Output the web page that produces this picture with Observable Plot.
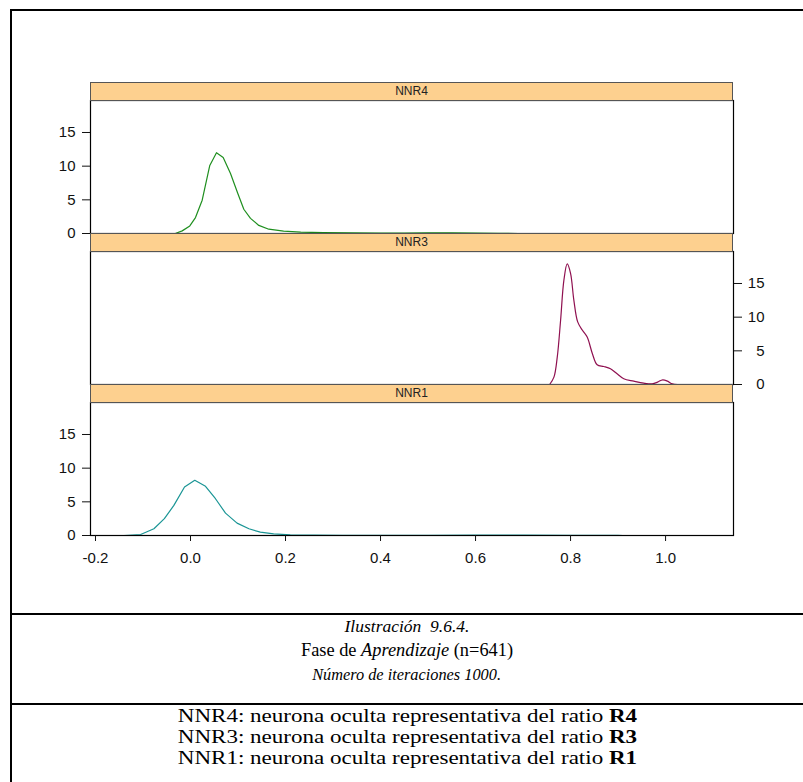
<!DOCTYPE html>
<html><head><meta charset="utf-8">
<script src="https://cdn.jsdelivr.net/npm/d3@7"></script>
<script src="https://cdn.jsdelivr.net/npm/@observablehq/plot@0.6"></script>
<style>
body{margin:0;background:#fff;}
#wrap{position:relative;width:803px;height:782px;overflow:hidden;background:#fff;font-family:"Liberation Sans",Arial,sans-serif;}
.hl{position:absolute;background:#000;}
.strip{position:absolute;left:90px;width:643px;height:19px;background:#fdd08f;border:1px solid #555;box-sizing:border-box;font-size:12px;text-align:center;line-height:17px;color:#222;font-family:"Liberation Sans",Arial,sans-serif;}
.pl{position:absolute;left:0;}
.cap{position:absolute;left:11px;width:792px;text-align:center;font-family:"Liberation Serif","Times New Roman",serif;font-size:18px;line-height:20px;white-space:nowrap;}
.cap span{display:inline-block;transform-origin:50% 50%;}
</style></head>
<body>
<div id="wrap"></div>
<script>
// ---- data ----
const panels = ["NNR4", "NNR3", "NNR1"];
const colors = ["#1f8f1f", "#8f1050", "#1a9595"];
const curves = ["linear", "catmull-rom", "linear"];
const yAxisSide = ["left", "right", "left"];

const nnr4X = [-0.032, -0.0175, -0.0015, 0.0105, 0.0246, 0.0406, 0.0547, 0.0688, 0.0842, 0.0996, 0.1122, 0.1263, 0.1438, 0.1648, 0.196, 0.232, 0.28, 0.337, 0.40, 0.45, 0.50, 0.55, 0.60, 0.65, 0.69];
const nnr4Y = [0, 0.39, 1.13, 2.37, 4.95, 10.1, 12.0, 11.3, 8.9, 5.95, 3.6, 2.25, 1.2, 0.64, 0.34, 0.19, 0.12, 0.08, 0.06, 0.07, 0.08, 0.08, 0.06, 0.03, 0];

const nnr3X = [0.756, 0.765, 0.772, 0.779, 0.786, 0.793, 0.800, 0.807, 0.815, 0.825, 0.835, 0.846, 0.856, 0.870, 0.884, 0.898, 0.912, 0.933, 0.954, 0.972, 0.983, 0.994, 1.004, 1.014, 1.025];
const nnr3Y = [0, 1.09, 4.07, 9.5, 15.5, 17.9, 16.5, 12.5, 9.3, 8.05, 7.05, 4.57, 2.93, 2.68, 2.34, 1.59, 0.85, 0.5, 0.2, 0.1, 0.35, 0.7, 0.5, 0.1, 0];

const nnr1X = [-0.140, -0.105, -0.077, -0.055, -0.035, -0.0126, 0.009, 0.0316, 0.0526, 0.0737, 0.098, 0.123, 0.147, 0.175, 0.21, 0.26, 0.32, 0.40, 0.50, 0.60, 0.70, 0.80, 0.90, 0.91];
const nnr1Y = [0, 0.15, 1.0, 2.5, 4.47, 7.2, 8.2, 7.3, 5.46, 3.32, 1.84, 1.0, 0.5, 0.25, 0.1, 0.06, 0.04, 0.03, 0.04, 0.05, 0.05, 0.03, 0.01, 0];

const xTicks = [-0.2, 0.0, 0.2, 0.4, 0.6, 0.8, 1.0];
const yTicks = [0, 5, 10, 15];
const xDomain = [-0.2105, 1.143];
const yDomain = [0, 19.75];

const captionLines = [
  {html: "<i>Ilustración&nbsp; 9.6.4.</i>", top: 616, size: 17.5, sx: 1},
  {html: "Fase de <i>Aprendizaje</i> (n=641)", top: 640, size: 18, sx: 1.02},
  {html: "<i>Número de iteraciones 1000.</i>", top: 665, size: 16, sx: 1.02},
  {html: "NNR4: neurona oculta representativa del ratio <b>R4</b>", top: 706, size: 18, sx: 1.28},
  {html: "NNR3: neurona oculta representativa del ratio <b>R3</b>", top: 727, size: 18, sx: 1.28},
  {html: "NNR1: neurona oculta representativa del ratio <b>R1</b>", top: 748, size: 18, sx: 1.28}
];

// ---- build ----
const series = [
  nnr4X.map((x, i) => ({x, y: nnr4Y[i]})),
  nnr3X.map((x, i) => ({x, y: nnr3Y[i]})),
  nnr1X.map((x, i) => ({x, y: nnr1Y[i]}))
];

const wrap = document.getElementById("wrap");
function hline(l, t, w, h) {
  const d = document.createElement("div");
  d.className = "hl";
  Object.assign(d.style, {left: l + "px", top: t + "px", width: w + "px", height: h + "px"});
  wrap.appendChild(d);
}
hline(10, 9, 800, 2);
hline(10, 9, 2, 780);
hline(10, 613, 800, 2);
hline(10, 703, 800, 2);

const stripTops = [82, 233, 384];
const bodyH = 133;
panels.forEach((name, i) => {
  const showX = i === panels.length - 1;
  const mt = 10, mb = showX ? 45 : 10;
  const side = yAxisSide[i];
  const plot = Plot.plot({
    width: 803,
    height: bodyH + mt + mb,
    marginLeft: 90, marginRight: 70, marginTop: mt, marginBottom: mb,
    x: {domain: xDomain, axis: null},
    y: {domain: yDomain, axis: null},
    style: {fontFamily: "'Liberation Sans', Arial, sans-serif", fontSize: "15px", background: "transparent", overflow: "visible", color: "#111"},
    marks: [
      Plot.line(series[i], {x: "x", y: "y", stroke: colors[i], strokeWidth: 1.2, curve: curves[i]}),
      Plot.frame({stroke: "#000", strokeWidth: 1.2}),
      side === "left"
        ? Plot.axisY({anchor: "left", ticks: yTicks, tickSize: 8, tickPadding: 7, label: null, tickFormat: d => String(d)})
        : Plot.axisY({anchor: "right", ticks: yTicks, tickSize: 8, tickPadding: 23, label: null, textAnchor: "end", tickFormat: d => String(d)}),
      showX ? Plot.axisX({anchor: "bottom", ticks: xTicks, tickSize: 6, tickPadding: 11, label: null, tickFormat: d => d.toFixed(1)}) : null
    ]
  });
  const holder = document.createElement("div");
  holder.className = "pl";
  holder.style.top = (stripTops[i] + 18 - mt) + "px";
  holder.appendChild(plot);
  wrap.appendChild(holder);

  const s = document.createElement("div");
  s.className = "strip";
  s.style.top = stripTops[i] + "px";
  s.textContent = name;
  wrap.appendChild(s);
});

captionLines.forEach(c => {
  const d = document.createElement("div");
  d.className = "cap";
  d.style.top = c.top + "px";
  d.style.fontSize = c.size + "px";
  const sp = document.createElement("span");
  sp.innerHTML = c.html;
  sp.style.transform = `scaleX(${c.sx})`;
  d.appendChild(sp);
  wrap.appendChild(d);
});
</script>
</body></html>
